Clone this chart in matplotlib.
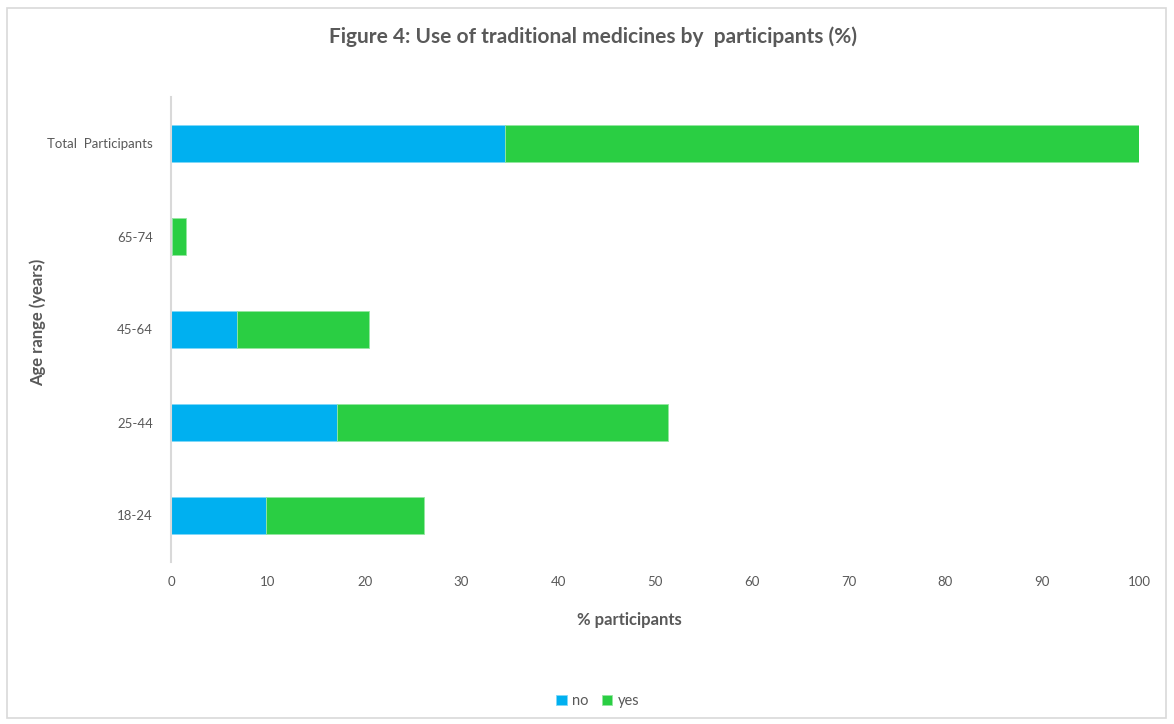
import matplotlib.pyplot as plt
from matplotlib.patches import Rectangle

categories = ['18-24', '25-44', '45-64', '65-74', 'Total  Participants']
no_vals = [9.8, 17.1, 6.8, 0.15, 34.5]
yes_vals = [16.3, 34.2, 13.7, 1.4, 65.5]

blue = '#00B0F0'
green = '#2ACE43'
grey = '#595959'

plt.rcParams['font.family'] = ['Lato', 'DejaVu Sans']

fig = plt.figure(figsize=(11.74, 7.24), dpi=100)
ax = fig.add_axes([171/1174, 1-562/724, (1139-171)/1174, (562-97)/724])

y = range(len(categories))
ax.barh(y, no_vals, height=0.39, color=blue, label='no',
        edgecolor='#7fd8f8', linewidth=0.6)
ax.barh(y, yes_vals, left=no_vals, height=0.39, color=green, label='yes',
        edgecolor='#95e6a1', linewidth=0.6)

ax.set_xlim(0, 100)
ax.set_ylim(-0.5, 4.5)
ax.set_xticks(range(0, 101, 10))
ax.set_yticks(list(y))
ax.set_yticklabels(categories)

for s in ['top', 'right', 'bottom']:
    ax.spines[s].set_visible(False)
ax.spines['left'].set_color('#d9d9d9')
ax.spines['left'].set_linewidth(1.5)
ax.tick_params(axis='y', length=0, pad=13, labelsize=9.5, labelcolor=grey)
ax.tick_params(axis='x', length=0, pad=10, labelsize=9.5, labelcolor=grey)

ax.set_xlabel('% participants', fontsize=12, fontweight='bold', color=grey)
ax.xaxis.set_label_coords(0.474, -0.108)
ax.set_ylabel('Age range (years)', fontsize=12, fontweight='bold', color=grey)
ax.yaxis.set_label_coords(-0.129, 0.516)

fig.text(593/1174, 1-37/724, 'Figure 4: Use of traditional medicines by  participants (%)',
         ha='center', va='center', fontsize=15, fontweight='bold', color=grey)

fig.legend(loc='center', bbox_to_anchor=(598/1174, 1-701/724), ncol=2, frameon=False,
           fontsize=10.5, handlelength=0.7, handleheight=0.7, columnspacing=0.9,
           handletextpad=0.4, labelcolor=grey)

fig.patches.append(Rectangle((7/1174, 1-718/724), 1159/1174, 710/724,
                             transform=fig.transFigure, fill=False,
                             edgecolor='#d9d9d9', linewidth=1.2))

fig.savefig('out.png', dpi=100)
